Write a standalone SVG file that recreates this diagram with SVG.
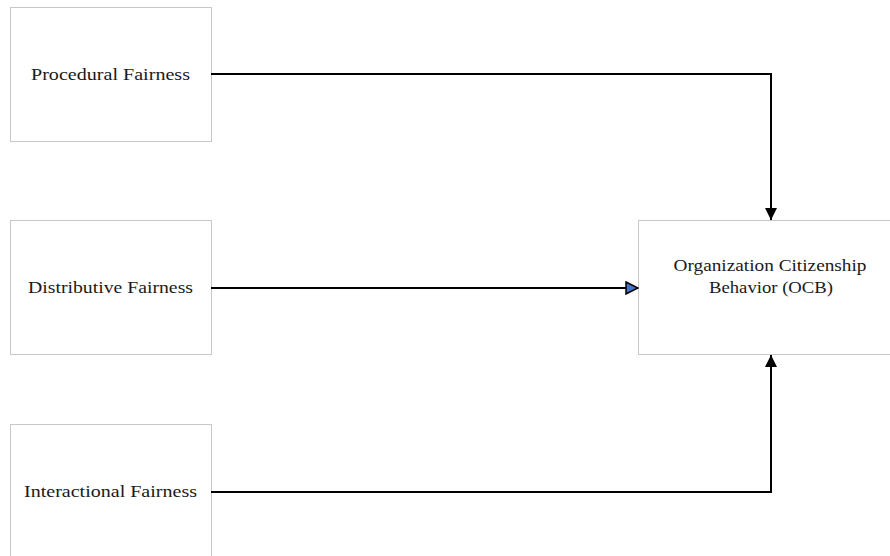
<svg xmlns="http://www.w3.org/2000/svg" width="890" height="556" viewBox="0 0 890 556">
<style>
.box{fill:#ffffff;stroke:#c8c8c8;stroke-width:1}
.lbl{font-family:"Liberation Serif","DejaVu Serif",serif;font-size:17.5px;fill:#1a1a1a;text-anchor:middle}
.con{fill:none;stroke:#000000;stroke-width:2}
</style>
<defs>
<marker id="ah" viewBox="0 0 12 12" refX="12" refY="6" markerWidth="12" markerHeight="12" markerUnits="userSpaceOnUse" orient="auto">
<path d="M0,0 L12,6 L0,12 Z" fill="#000000"/>
</marker>
<marker id="ahb" viewBox="0 0 14 14" refX="13" refY="7" markerWidth="14" markerHeight="14" markerUnits="userSpaceOnUse" orient="auto">
<path d="M1,1 L13,7 L1,13 Z" fill="#4472C4" stroke="#000000" stroke-width="1.5"/>
</marker>
</defs>
<rect width="890" height="556" fill="#ffffff"/>
<g id="procedural">
<rect class="box" x="10.5" y="7.5" width="201" height="134"/>
<text class="lbl" x="110.5" y="80" textLength="159" lengthAdjust="spacingAndGlyphs">Procedural Fairness</text>
</g>
<g id="distributive">
<rect class="box" x="10.5" y="220.5" width="201" height="134"/>
<text class="lbl" x="110.5" y="293" textLength="165" lengthAdjust="spacingAndGlyphs">Distributive Fairness</text>
</g>
<g id="interactional">
<rect class="box" x="10.5" y="424.5" width="201" height="134"/>
<text class="lbl" x="110.5" y="497" textLength="173" lengthAdjust="spacingAndGlyphs">Interactional Fairness</text>
</g>
<g id="ocb">
<rect class="box" x="638.5" y="220.5" width="260" height="134"/>
<text class="lbl" x="770" y="271" textLength="193" lengthAdjust="spacingAndGlyphs">Organization Citizenship</text>
<text class="lbl" x="771" y="293" textLength="124" lengthAdjust="spacingAndGlyphs">Behavior (OCB)</text>
</g>
<g id="connectors">
<polyline class="con" points="211,74 771,74 771,220" marker-end="url(#ah)"/>
<line class="con" x1="211" y1="288" x2="638" y2="288" marker-end="url(#ahb)"/>
<polyline class="con" points="211,492 771,492 771,355" marker-end="url(#ah)"/>
</g>
</svg>
